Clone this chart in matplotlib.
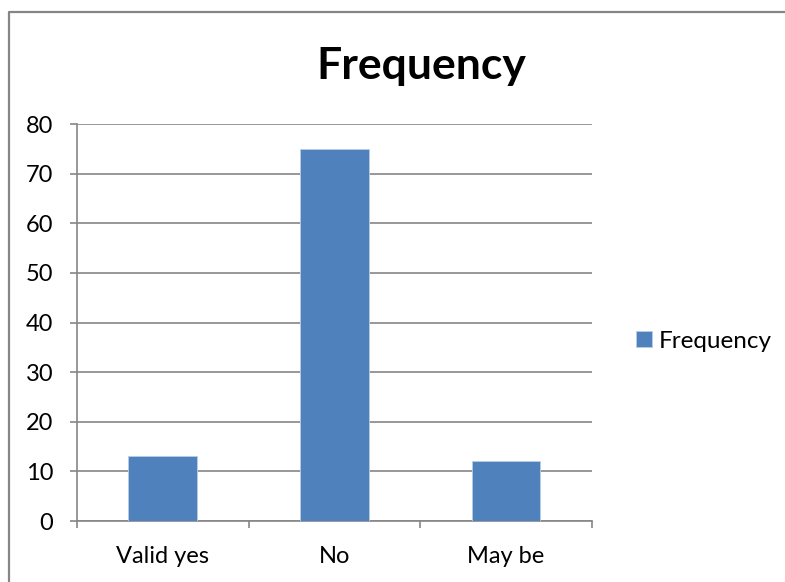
import numpy as np
import matplotlib.pyplot as plt
from matplotlib.lines import Line2D

# Chart data
categories = ["Valid yes", "No", "May be"]
frequency = [13, 75, 12]
y_ticks = [0, 10, 20, 30, 40, 50, 60, 70, 80]

plt.rcParams['font.family'] = ['Lato', 'DejaVu Sans']

fig = plt.figure(figsize=(7.85, 5.82), dpi=100)
ax = fig.add_axes([0.098, 0.1048, 0.656, 0.6821])

grid_col = '#868686'
x = np.arange(len(categories))
bars = ax.bar(x, frequency, width=0.4, color='#4F81BD', edgecolor='#B9CDE5',
              linewidth=0.6, label='Frequency', zorder=3)

ax.set_xlim(-0.5, len(categories) - 0.5)
ax.set_ylim(0, 80)
ax.set_yticks(y_ticks)
ax.yaxis.grid(True, color=grid_col, linewidth=1.2, zorder=0)

# category labels centred, ticks on boundaries
ax.set_xticks(x)
ax.set_xticklabels(categories, fontsize=17)
ax.tick_params(axis='x', which='major', length=0, pad=18)
ax.set_xticks(np.arange(-0.5, len(categories)), minor=True)
ax.tick_params(axis='x', which='minor', length=5, color=grid_col, width=1.2)
ax.tick_params(axis='y', length=5, color=grid_col, width=1.2, labelsize=17, pad=12)

for s in ['top', 'right']:
    ax.spines[s].set_visible(False)
for s in ['left', 'bottom']:
    ax.spines[s].set_color(grid_col)
    ax.spines[s].set_linewidth(1.2)

fig.text(0.537, 0.886, 'Frequency', ha='center', va='center',
         fontsize=32, fontweight='bold')

fig.legend(handles=[bars], labels=['Frequency'], loc='center left',
           bbox_to_anchor=(614 / 785, 1 - 341 / 582), frameon=False,
           fontsize=17.5, handlelength=0.65, handleheight=0.65,
           handletextpad=0.3)

# outer chart border (top and left edges)
fig.add_artist(Line2D([8.5 / 785, 8.5 / 785, 1.0], [0, 1 - 11.5 / 582, 1 - 11.5 / 582],
                      transform=fig.transFigure, color=grid_col, linewidth=1.6))

fig.savefig('out.png', dpi=100)
